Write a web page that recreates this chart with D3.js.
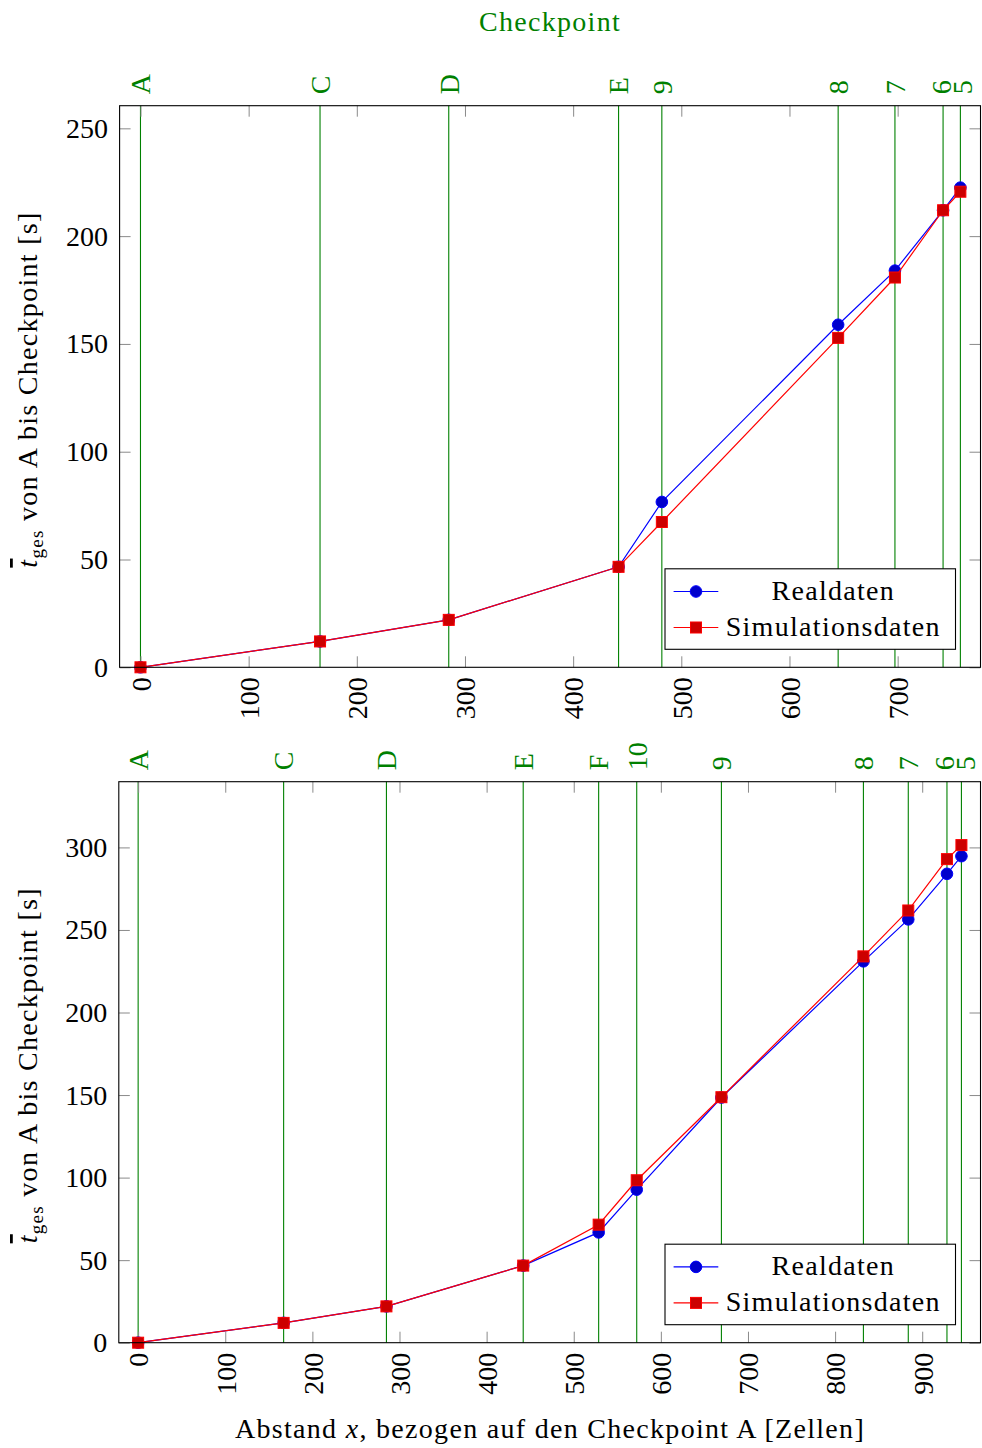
<!DOCTYPE html>
<html>
<head>
<meta charset="utf-8">
<script src="https://cdn.jsdelivr.net/npm/d3@7"></script>
<style>
  body { margin: 0; background: #fff; }
  text { font-family: "Liberation Serif", "DejaVu Serif", serif; }
  .words { letter-spacing: 1.3px; }
</style>
</head>
<body>
<svg width="982" height="1448"></svg>
<script>
// upper panel: route A..E, then 9..5
const cp1Names = ["A","C","D","E","9","8","7","6","5"];
const cp1X = [0,166,285,442,482,645,697.5,742,758];
const real1 = [0,12,22,46.6,76.7,158.9,184,212,222.5];
const sim1 = [0,12,22,46.6,67.4,152.8,180.8,212,220.6];
const xTicks1 = [0,100,200,300,400,500,600,700];
const yTicks1 = [0,50,100,150,200,250];

// lower panel: route A..F, then 10..5
const cp2Names = ["A","C","D","E","F","10","9","8","7","6","5"];
const cp2X = [0,167,285,442,528.6,572.3,669.5,832.5,884,928.4,945];
const real2 = [0,12,22,46.7,66.8,92.7,148.5,231,256.4,284,294.7];
const sim2 = [0,12,22,46.7,71.5,98.4,148.7,234,261.8,292.9,301.4];
const xTicks2 = [0,100,200,300,400,500,600,700,800,900];
const yTicks2 = [0,50,100,150,200,250,300];

const seriesNames = ["Realdaten","Simulationsdaten"];

const FS = 28;
const green = "#008000";
const tickGray = "#8a8a8a";

var svg = d3.select("svg");

function spread_labels(xs, gap){
  // push neighbouring labels apart around their midpoint
  var out = xs.slice();
  for (var i = 1; i < out.length; i++){
    if (out[i] - out[i-1] < gap){
      var mid = (out[i] + out[i-1]) / 2;
      out[i-1] = mid - gap / 2;
      out[i] = mid + gap / 2;
    }
  }
  return out;
}

function draw_panel(p){
  var g = svg.append("g");
  var x = d3.scaleLinear().domain(p.xdom).range([p.left, p.right]);
  var y = d3.scaleLinear().domain(p.ydom).range([p.bottom, p.top]);

  // checkpoint lines
  g.selectAll("line.cp").data(p.cpX).enter().append("line")
    .attr("x1", d => x(d)).attr("x2", d => x(d))
    .attr("y1", p.top).attr("y2", p.bottom)
    .attr("stroke", green).attr("stroke-width", 1.1);

  var lx = spread_labels(p.cpX.map(d => x(d)), 21);
  g.selectAll("text.cp").data(p.cpNames).enter().append("text")
    .attr("transform", (d, i) => "translate(" + lx[i] + "," + (p.top - 11.5) + ") rotate(-90)")
    .attr("dy", "0.35em")
    .attr("fill", green)
    .style("font-size", FS + "px")
    .text(d => d);

  // axes (ticks inside on all four sides)
  var bottom = g.append("g").attr("transform", "translate(0," + p.bottom + ")")
    .call(d3.axisBottom(x).tickValues(p.xTicks).tickSizeInner(-11).tickSizeOuter(0));
  bottom.selectAll("text")
    .attr("transform", "rotate(-90)")
    .attr("x", -10).attr("y", 0).attr("dy", "0.35em")
    .attr("text-anchor", "end");
  g.append("g").attr("transform", "translate(0," + p.top + ")")
    .call(d3.axisTop(x).tickValues(p.xTicks).tickSizeInner(-11).tickSizeOuter(0).tickFormat(""));
  g.append("g").attr("transform", "translate(" + p.left + ",0)")
    .call(d3.axisLeft(y).tickValues(p.yTicks).tickSizeInner(-11).tickSizeOuter(0).tickPadding(11.5));
  g.append("g").attr("transform", "translate(" + p.right + ",0)")
    .call(d3.axisRight(y).tickValues(p.yTicks).tickSizeInner(-11).tickSizeOuter(0).tickFormat(""));
  g.selectAll(".domain").remove();
  g.selectAll(".tick line").attr("stroke", tickGray);
  g.selectAll(".tick text").attr("fill", "#000")
    .style("font-size", FS + "px").style("font-family", '"Liberation Serif", serif');

  // data
  var line = d3.line().x(d => x(d[0])).y(d => y(d[1]));
  var realPts = p.cpX.map((d, i) => [d, p.real[i]]);
  var simPts = p.cpX.map((d, i) => [d, p.sim[i]]);

  g.append("path").datum(realPts).attr("d", line)
    .attr("fill", "none").attr("stroke", "#0000ff").attr("stroke-width", 1.2);
  g.selectAll("circle.real").data(realPts).enter().append("circle")
    .attr("cx", d => x(d[0])).attr("cy", d => y(d[1])).attr("r", 5.8)
    .attr("fill", "#0000cc").attr("stroke", "#0000ff").attr("stroke-width", 1);

  g.append("path").datum(simPts).attr("d", line)
    .attr("fill", "none").attr("stroke", "#ff0000").attr("stroke-width", 1.2);
  g.selectAll("rect.sim").data(simPts).enter().append("rect")
    .attr("x", d => x(d[0]) - 5.5).attr("y", d => y(d[1]) - 5.5)
    .attr("width", 11).attr("height", 11)
    .attr("fill", "#cc0000").attr("stroke", "#ff0000").attr("stroke-width", 1);

  // legend
  var lw = 290.5, lh = 80.5;
  var lgx = p.right - 25 - lw, lgy = p.bottom - 18 - lh;
  var lg = g.append("g").attr("transform", "translate(" + lgx + "," + lgy + ")");
  lg.append("rect").attr("width", lw).attr("height", lh)
    .attr("fill", "#fff").attr("stroke", "#000").attr("stroke-width", 1.1);
  seriesNames.forEach(function(name, i){
    var ry = 22.7 + i * 36;
    var col = i === 0 ? "#0000ff" : "#ff0000";
    lg.append("line").attr("x1", 8.6).attr("x2", 53.3).attr("y1", ry).attr("y2", ry)
      .attr("stroke", col).attr("stroke-width", 1.2);
    if (i === 0) {
      lg.append("circle").attr("cx", 31).attr("cy", ry).attr("r", 5.8)
        .attr("fill", "#0000cc").attr("stroke", col);
    } else {
      lg.append("rect").attr("x", 25.5).attr("y", ry - 5.5).attr("width", 11).attr("height", 11)
        .attr("fill", "#cc0000").attr("stroke", col);
    }
    lg.append("text").attr("class", "words").attr("x", 168.3).attr("y", ry).attr("dy", "0.3em")
      .attr("text-anchor", "middle").style("font-size", FS + "px").text(name);
  });

  // y label
  var yl = g.append("text").attr("class", "words")
    .attr("transform", "translate(37," + ((p.top + p.bottom) / 2 + 3) + ") rotate(-90)")
    .attr("text-anchor", "middle").style("font-size", FS + "px");
  yl.append("tspan").style("font-style", "italic").style("text-decoration", "overline").text("t");
  yl.append("tspan").attr("dy", 6).style("font-size", "19px").text("ges");
  yl.append("tspan").attr("dy", -6).text(" von A bis Checkpoint [s]");

  // frame
  g.append("rect").attr("x", p.left).attr("y", p.top)
    .attr("width", p.right - p.left).attr("height", p.bottom - p.top)
    .attr("fill", "none").attr("stroke", "#000").attr("stroke-width", 1.1);
}

function init(){
  svg.append("text").attr("class", "words").attr("x", 550).attr("y", 31)
    .attr("text-anchor", "middle").attr("fill", green)
    .style("font-size", FS + "px").text("Checkpoint");

  draw_panel({left: 119.6, right: 980.5, top: 105.7, bottom: 667.3,
              xdom: [-19.3, 776.6], ydom: [0, 260.5],
              cpNames: cp1Names, cpX: cp1X, real: real1, sim: sim1,
              xTicks: xTicks1, yTicks: yTicks1});
  draw_panel({left: 118.8, right: 980.5, top: 781.7, bottom: 1342.7,
              xdom: [-22.2, 966.9], ydom: [0, 339.8],
              cpNames: cp2Names, cpX: cp2X, real: real2, sim: sim2,
              xTicks: xTicks2, yTicks: yTicks2});

  var xl = svg.append("text").attr("class", "words").attr("x", 550).attr("y", 1438)
    .attr("text-anchor", "middle").style("font-size", FS + "px");
  xl.append("tspan").text("Abstand ");
  xl.append("tspan").style("font-style", "italic").text("x");
  xl.append("tspan").text(", bezogen auf den Checkpoint A [Zellen]");
}

init();
</script>
</body>
</html>
